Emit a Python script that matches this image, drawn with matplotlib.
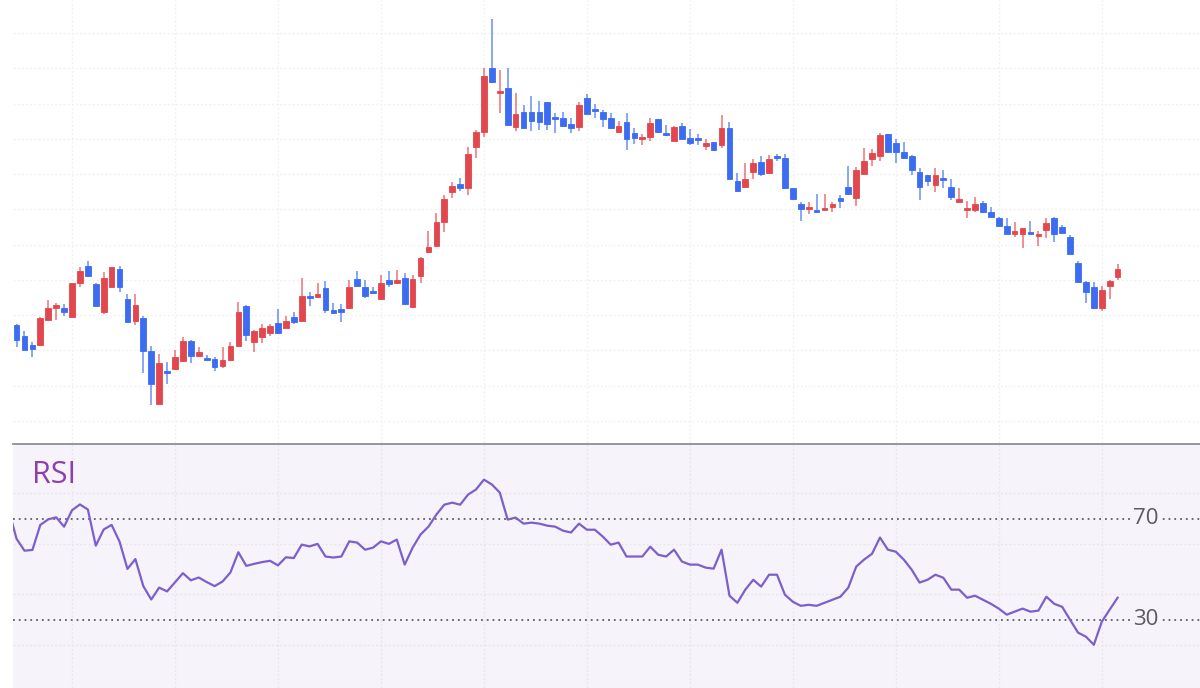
import numpy as np
import matplotlib
matplotlib.use("Agg")
import matplotlib.pyplot as plt

# OHLC (arbitrary price units, no axis shown)
opens = [125, 114, 105, 105, 130, 142, 142, 133, 167, 184, 166, 138, 163, 181, 151, 129, 132, 99, 46, 78,
         81, 89, 109, 94, 92, 91, 84, 90, 104, 144, 108, 113, 117, 127, 122, 133, 129, 154, 153, 162,
         140, 141, 142, 171, 163, 158, 151, 170, 167, 172, 143, 174, 198, 204, 228, 258, 266, 262, 303, 318,
         382, 357, 362, 323, 338, 338, 338, 348, 332, 332, 326, 323, 352, 341, 338, 332, 318, 328, 317, 311,
         313, 331, 317, 309, 324, 312, 311, 304, 308, 305, 322, 269, 263, 278, 288, 277, 294, 292, 262, 246,
         241, 240, 240, 243, 252, 263, 252, 276, 291, 294, 316, 307, 298, 294, 278, 275, 265, 272, 263, 248,
         240, 240, 247, 238, 232, 224, 216, 216, 217, 214, 220, 232, 223, 213, 187, 168, 163, 142, 164, 173]
highs = [126, 119, 108, 133, 150, 147, 146, 167, 183, 189, 167, 178, 183, 184, 156, 156, 134, 104, 96, 88,
         100, 113, 110, 103, 95, 93, 103, 108, 148, 145, 120, 126, 126, 141, 134, 138, 172, 158, 167, 169,
         147, 146, 170, 179, 170, 163, 175, 179, 180, 177, 175, 193, 219, 237, 255, 268, 272, 303, 320, 382,
         431, 380, 382, 357, 345, 354, 349, 348, 337, 338, 332, 348, 356, 346, 340, 337, 329, 337, 322, 316,
         332, 331, 325, 324, 327, 321, 316, 311, 308, 335, 328, 277, 287, 291, 294, 295, 296, 296, 262, 248,
         248, 256, 256, 248, 255, 284, 283, 302, 301, 317, 316, 311, 308, 295, 282, 275, 282, 280, 271, 262,
         249, 253, 249, 243, 233, 232, 228, 222, 229, 219, 232, 233, 225, 215, 189, 169, 168, 164, 170, 186]
lows = [103, 100, 93, 104, 130, 130, 134, 132, 163, 173, 144, 136, 163, 158, 128, 125, 77, 45, 46, 66,
        80, 88, 87, 93, 89, 79, 82, 89, 104, 109, 98, 107, 114, 116, 122, 126, 129, 144, 152, 137,
        136, 128, 141, 163, 152, 156, 150, 163, 166, 145, 142, 167, 197, 204, 218, 252, 259, 255, 292, 313,
        367, 337, 325, 319, 322, 319, 320, 320, 317, 323, 317, 319, 336, 332, 323, 321, 318, 300, 306, 305,
        309, 317, 314, 309, 311, 305, 305, 300, 299, 302, 271, 258, 262, 271, 274, 276, 289, 261, 250, 229,
        236, 238, 240, 238, 242, 255, 244, 276, 284, 289, 298, 287, 291, 275, 250, 264, 258, 262, 250, 247,
        232, 238, 237, 233, 223, 216, 213, 202, 216, 204, 212, 208, 217, 196, 167, 147, 141, 139, 151, 170]
closes = [110, 100, 101, 132, 142, 145, 138, 167, 179, 174, 144, 172, 183, 163, 128, 145, 99, 66, 87, 77,
          93, 109, 94, 98, 90, 83, 90, 104, 138, 115, 119, 122, 124, 117, 129, 128, 154, 152, 156, 140,
          137, 138, 163, 164, 154, 157, 167, 166, 170, 146, 171, 192, 203, 228, 251, 264, 262, 296, 318, 374,
          368, 359, 325, 336, 322, 329, 328, 326, 331, 324, 322, 345, 336, 339, 331, 322, 324, 311, 312, 312,
          327, 318, 315, 323, 311, 307, 310, 307, 300, 322, 271, 259, 271, 287, 276, 291, 292, 262, 251, 241,
          243, 238, 242, 246, 249, 256, 280, 289, 297, 315, 298, 298, 292, 280, 263, 269, 275, 270, 253, 251,
          241, 246, 238, 233, 224, 216, 219, 222, 216, 216, 227, 216, 217, 196, 168, 158, 142, 160, 169, 181]

# RSI, first value belongs to the bar just left of the visible window
rsi = [73.5, 62.0, 57.3, 57.6, 67.5, 69.7, 70.5, 66.8, 73.3, 75.6, 73.6, 59.3, 65.7, 67.5, 60.9, 50.1,
       54.0, 43.3, 38.0, 42.7, 41.2, 44.8, 48.4, 45.6, 46.7, 44.9, 43.3, 45.1, 48.7, 56.7, 51.3, 52.1,
       52.8, 53.3, 51.5, 54.7, 54.4, 59.7, 59.0, 60.0, 55.0, 54.6, 55.0, 61.0, 60.5, 57.7, 58.5, 61.0,
       60.0, 61.7, 51.8, 58.5, 63.7, 66.8, 71.6, 75.5, 76.3, 75.5, 79.5, 81.5, 85.4, 83.5, 80.3, 69.6,
       70.4, 68.0, 68.4, 68.0, 67.2, 66.8, 65.2, 64.5, 68.0, 65.6, 65.6, 62.9, 59.7, 60.5, 55.0, 55.0,
       55.0, 58.9, 55.7, 55.0, 57.7, 53.0, 51.8, 51.8, 50.6, 50.2, 57.7, 39.5, 36.7, 41.9, 45.8, 43.1,
       47.8, 47.8, 39.9, 37.1, 35.5, 35.9, 35.5, 36.7, 37.9, 39.1, 42.7, 51.0, 53.8, 56.1, 62.5, 57.7,
       56.9, 53.8, 49.8, 44.7, 45.8, 47.8, 46.6, 41.9, 41.9, 38.7, 39.5, 37.9, 36.3, 34.4, 32.0, 33.2,
       34.4, 33.2, 33.6, 39.1, 36.3, 35.1, 30.0, 24.9, 23.3, 20.1, 29.2, 34.0, 38.7]

up_color = "#e2474d"
down_color = "#3b6cf2"
panel_bg = "#f7f3fa"

o = np.array(opens, float)
h = np.array(highs, float)
l = np.array(lows, float)
c = np.array(closes, float)
x = np.arange(len(o))
colors = np.where(c >= o, up_color, down_color)

fig = plt.figure(figsize=(12, 6.88), dpi=100)
ax = fig.add_axes([13 / 1200, 245 / 688, 1187 / 1200, 443 / 688])
ax2 = fig.add_axes([13 / 1200, 0, 1187 / 1200, 244 / 688])

# candles
ax.vlines(x, l, h, colors=colors, linewidth=1.4, alpha=0.6, zorder=2)
body_lo = np.minimum(o, c)
body_h = np.maximum(np.abs(c - o), 1.6)
ax.bar(x, body_h, bottom=body_lo, width=0.72, color=colors, edgecolor=colors,
       linewidth=0.6, zorder=3)

ax.set_xlim(-0.45, 149.4)
ax.set_ylim(7, 450)
ax.set_xticks(np.arange(7, 150, 13))
ax.set_yticks(np.arange(29.25, 450, 35.25))
ax.grid(True, color="#f1f1f1", linestyle=(0, (1.5, 1.5)), linewidth=1)
ax.tick_params(length=0, labelbottom=False, labelleft=False)
for s in ax.spines.values():
    s.set_visible(False)

# RSI panel
ax2.set_facecolor(panel_bg)
ax2.plot(np.arange(-1, len(rsi) - 1), rsi, color="#7d5fcb", linewidth=1.6, zorder=3)
ax2.axhline(70, color="#5f5f5f", linestyle=(0, (1, 2.2)), linewidth=1.3, zorder=2)
ax2.axhline(30, color="#5f5f5f", linestyle=(0, (1, 2.2)), linewidth=1.3, zorder=2)
ax2.set_xlim(-0.45, 149.4)
ax2.set_ylim(3, 99.5)
ax2.set_xticks(np.arange(7, 150, 13))
ax2.set_yticks([20, 40, 60, 80])
ax2.grid(True, color="#ebe6ee", linestyle=(0, (1.5, 1.5)), linewidth=1)
ax2.tick_params(length=0, labelbottom=False, labelleft=False)
for s in ax2.spines.values():
    s.set_visible(False)
ax2.spines["top"].set_visible(True)
ax2.spines["top"].set_color("#8e8e93")
ax2.spines["top"].set_linewidth(1.3)

for lvl in (70, 30):
    ax2.text(142.5, lvl, str(lvl), ha="center", va="center", fontsize=16,
             color="#5a5a60", family="Open Sans", zorder=4,
             bbox=dict(facecolor=panel_bg, edgecolor="none", pad=0.5))
ax2.text(1.9, 87.4, "RSI", ha="left", va="center", fontsize=22,
         color="#8e3fae", family="Open Sans")

fig.savefig("out.png", dpi=100)
